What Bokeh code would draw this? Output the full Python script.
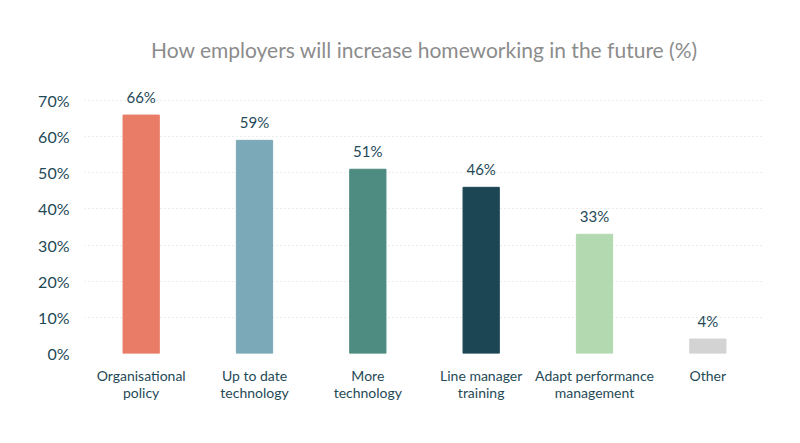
from bokeh.plotting import figure
from bokeh.models import ColumnDataSource, PrintfTickFormatter, Range1d
from bokeh.core.properties import value
from bokeh.embed import file_html
from bokeh.resources import INLINE

categories = ["Organisational\npolicy", "Up to date\ntechnology", "More\ntechnology",
              "Line manager\ntraining", "Adapt performance\nmanagement", "Other"]
values = [66, 59, 51, 46, 33, 4]
labels = ["66%", "59%", "51%", "46%", "33%", "4%"]
colors = ["#E97C66", "#7BA9B8", "#4E8B80", "#1C4653", "#B3D9B1", "#D3D3D3"]
yticks = [0, 10, 20, 30, 40, 50, 60, 70]

FONT = "Lato"
DARK = "#1F4A57"

src = ColumnDataSource(dict(cat=categories, val=values, lab=labels, col=colors))

p = figure(x_range=categories, width=784, height=427, output_backend="svg",
           toolbar_location=None, min_border_left=84, min_border_right=20,
           min_border_top=90, min_border_bottom=74,
           title="How employers will increase homeworking in the future (%)")
p.y_range = Range1d(0, 72.8)
p.x_range.range_padding = 0.0

p.vbar(x="cat", top="val", width=0.32, color="col", source=src)
p.text(x="cat", y="val", text="lab", source=src, text_align="center",
       text_baseline="bottom", y_offset=-9, text_font=value(FONT),
       text_font_size="15px", text_color=DARK)

p.title.align = "center"
p.title.text_font = FONT
p.title.text_font_size = "21px"
p.title.text_color = "#8C8C8C"
p.title.text_font_style = "normal"
p.title.standoff = 58

p.outline_line_color = None
p.xgrid.grid_line_color = None
p.ygrid.grid_line_color = "#D8D8D8"
p.ygrid.grid_line_dash = "1 3"
p.ygrid.ticker = yticks

p.yaxis.ticker = yticks
p.yaxis.formatter = PrintfTickFormatter(format="%d%%")
for ax in (p.xaxis, p.yaxis):
    ax.axis_line_color = None
    ax.major_tick_line_color = None
    ax.minor_tick_line_color = None
    ax.major_label_text_font = FONT
    ax.major_label_text_color = DARK
p.yaxis.major_label_text_font_size = "16px"
p.xaxis.major_label_text_font_size = "14px"
p.xaxis.major_label_text_line_height = 1.0
p.yaxis.major_label_standoff = 9
p.xaxis.major_label_standoff = 7

open("out.html", "w").write(file_html(p, INLINE))
